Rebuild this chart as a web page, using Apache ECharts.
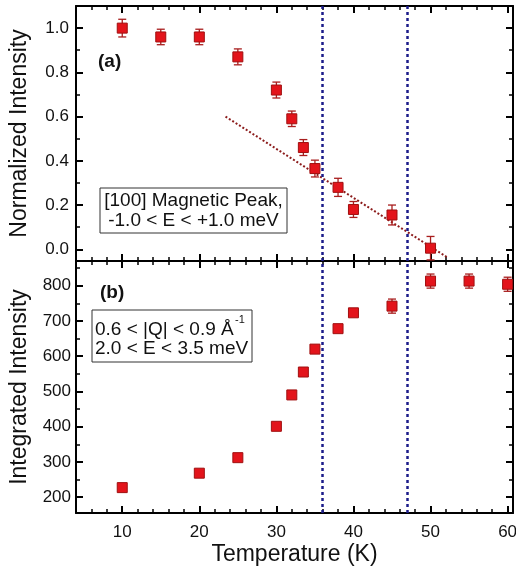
<!DOCTYPE html>
<html>
<head>
<meta charset="utf-8">
<script src="https://cdn.jsdelivr.net/npm/echarts@6/dist/echarts.min.js"></script>
<style>
  html, body { margin: 0; padding: 0; background: #fff; }
  #chart { width: 516px; height: 573px; }
</style>
</head>
<body>
<div id="chart"></div>
<script>
// (a) normalized intensity of the [100] magnetic peak
const tempA = [10, 15, 20, 25, 30, 32, 33.5, 35, 38, 40, 45, 50];
const normA = [1.0, 0.96, 0.96, 0.87, 0.72, 0.59, 0.46, 0.365, 0.28, 0.18, 0.155, 0.005];
const errA = [0.04, 0.035, 0.035, 0.036, 0.036, 0.035, 0.036, 0.038, 0.041, 0.036, 0.045, 0.053];
const fitLine = [[23.4, 0.6], [52.2, -0.037]];

// (b) integrated intensity
const tempB = [10, 20, 25, 30, 32, 33.5, 35, 38, 40, 45, 50, 55, 60];
const intB = [227, 268, 312, 401, 490, 555, 620, 678, 723, 742, 813, 813, 804];
const errB = [8, 8, 8, 8, 8, 8, 8, 8, 8, 20, 20, 20, 20];

// dotted vertical lines
const transitions = [36, 47];

// ticks
const xTicks = [10, 20, 30, 40, 50, 60];
const xMinor = [6, 8, 12, 14, 16, 18, 22, 24, 26, 28, 32, 34, 36, 38, 42, 44, 46, 48, 52, 54, 56, 58];
const yTicksA = [0, 0.2, 0.4, 0.6, 0.8, 1.0];
const yMinorA = [0.1, 0.3, 0.5, 0.7, 0.9];
const yTicksB = [200, 300, 400, 500, 600, 700, 800];
const yMinorB = [250, 350, 450, 550, 650, 750, 850];

const FONT = 'Liberation Sans, Arial, sans-serif';
const xRange = [4, 60.7];
const yRangeA = [-0.053, 1.1];
const yRangeB = [155, 870];

let myChart = echarts.init(document.getElementById('chart'));

// one axis: either the major one (frame line + long ticks) or an overlay with short minor ticks
function axis(grid, pos, range, ticks, major, extra) {
    return Object.assign({
        type: 'value',
        gridIndex: grid,
        position: pos,
        min: range[0],
        max: range[1],
        axisLine: { show: major, onZero: false, lineStyle: { color: '#000', width: 2 } },
        axisTick: {
            show: true,
            inside: true,
            length: major ? 7 : 4,
            customValues: ticks,
            lineStyle: { color: '#000', width: major ? 2 : 1.5 }
        },
        axisLabel: { show: false },
        splitLine: { show: false }
    }, extra || {});
}

function labels(values, fmt, margin) {
    return {
        show: true,
        customValues: values,
        formatter: fmt,
        color: '#111',
        fontSize: 17,
        fontFamily: FONT,
        margin: margin
    };
}

function renderErr(params, api) {
    const x = api.value(0);
    const hi = api.coord([x, api.value(2)]);
    const lo = api.coord([x, api.value(1)]);
    const cap = 4;
    const style = { stroke: '#a81e1e', lineWidth: 1.3 };
    return {
        type: 'group',
        children: [
            { type: 'line', shape: { x1: hi[0], y1: hi[1], x2: lo[0], y2: lo[1] }, style: style },
            { type: 'line', shape: { x1: hi[0] - cap, y1: hi[1], x2: hi[0] + cap, y2: hi[1] }, style: style },
            { type: 'line', shape: { x1: lo[0] - cap, y1: lo[1], x2: lo[0] + cap, y2: lo[1] }, style: style }
        ]
    };
}

const vLines = {
    silent: true,
    symbol: 'none',
    label: { show: false },
    lineStyle: { color: '#1c1c8a', type: [3, 3], width: 2.5 },
    data: transitions.map(t => ({ xAxis: t }))
};

const markerStyle = { color: '#e3141b', borderColor: '#a01010', borderWidth: 1, opacity: 1 };

let option = {
    animation: false,
    grid: [
        { left: 76, right: 3, top: 6, height: 255, outerBoundsMode: 'none' },
        { left: 76, right: 3, top: 261, height: 252, outerBoundsMode: 'none' }
    ],
    xAxis: [
        axis(0, 'bottom', xRange, xTicks, true),
        axis(0, 'bottom', xRange, xMinor, false),
        axis(0, 'top', xRange, xTicks, true),
        axis(0, 'top', xRange, xMinor, false),
        axis(1, 'bottom', xRange, xTicks, true, {
            axisLabel: labels(xTicks, v => String(v), 11),
            name: 'Temperature (K)',
            nameLocation: 'middle',
            nameGap: 30,
            nameTextStyle: { fontSize: 23, fontFamily: FONT, color: '#111' }
        }),
        axis(1, 'bottom', xRange, xMinor, false),
        axis(1, 'top', xRange, xTicks, true),
        axis(1, 'top', xRange, xMinor, false)
    ],
    yAxis: [
        axis(0, 'left', yRangeA, yTicksA, true, {
            axisLabel: labels(yTicksA, v => v.toFixed(1), 7),
            name: 'Normalized Intensity',
            nameLocation: 'middle',
            nameGap: 45,
            nameTextStyle: { fontSize: 23, fontFamily: FONT, color: '#111' }
        }),
        axis(0, 'left', yRangeA, yMinorA, false),
        axis(0, 'right', yRangeA, yTicksA, true),
        axis(0, 'right', yRangeA, yMinorA, false),
        axis(1, 'left', yRangeB, yTicksB, true, {
            axisLabel: labels(yTicksB, v => String(v), 5),
            name: 'Integrated Intensity',
            nameLocation: 'middle',
            nameGap: 45,
            nameTextStyle: { fontSize: 23, fontFamily: FONT, color: '#111' }
        }),
        axis(1, 'left', yRangeB, yMinorB, false),
        axis(1, 'right', yRangeB, yTicksB, true),
        axis(1, 'right', yRangeB, yMinorB, false)
    ],
    series: [
        {
            type: 'custom',
            xAxisIndex: 0,
            yAxisIndex: 0,
            renderItem: renderErr,
            encode: { x: 0, y: [1, 2] },
            data: tempA.map((t, i) => [t, normA[i] - errA[i], normA[i] + errA[i]]),
            z: 2
        },
        {
            type: 'line',
            xAxisIndex: 0,
            yAxisIndex: 0,
            data: fitLine,
            showSymbol: false,
            lineStyle: { color: '#8c1c1c', width: 2, type: [2, 2] },
            z: 1
        },
        {
            type: 'scatter',
            xAxisIndex: 0,
            yAxisIndex: 0,
            symbol: 'rect',
            symbolSize: 10,
            itemStyle: markerStyle,
            data: tempA.map((t, i) => [t, normA[i]]),
            markLine: vLines,
            z: 3
        },
        {
            type: 'custom',
            xAxisIndex: 4,
            yAxisIndex: 4,
            renderItem: renderErr,
            encode: { x: 0, y: [1, 2] },
            data: tempB.map((t, i) => [t, intB[i] - errB[i], intB[i] + errB[i]]),
            z: 2
        },
        {
            type: 'scatter',
            xAxisIndex: 4,
            yAxisIndex: 4,
            symbol: 'rect',
            symbolSize: 10,
            itemStyle: markerStyle,
            data: tempB.map((t, i) => [t, intB[i]]),
            markLine: vLines,
            z: 3
        }
    ],
    graphic: [
        {
            type: 'text', left: 98, top: 52, z: 10,
            style: { text: '(a)', fontSize: 19, fontWeight: 'bold', fontFamily: FONT, fill: '#111' }
        },
        {
            type: 'text', left: 100, top: 283, z: 10,
            style: { text: '(b)', fontSize: 19, fontWeight: 'bold', fontFamily: FONT, fill: '#111' }
        },
        {
            type: 'rect', z: 10,
            shape: { x: 100, y: 188, width: 187, height: 45 },
            style: { fill: '#fff', stroke: '#333', lineWidth: 1 }
        },
        {
            type: 'text', z: 11, x: 193.5, y: 211,
            style: {
                text: '[100] Magnetic Peak,\n-1.0 < E < +1.0 meV',
                fontSize: 19, fontFamily: FONT, fill: '#111', lineHeight: 20,
                align: 'center', verticalAlign: 'middle'
            }
        },
        {
            type: 'rect', z: 10,
            shape: { x: 92, y: 310, width: 160, height: 52 },
            style: { fill: '#fff', stroke: '#333', lineWidth: 1 }
        },
        {
            type: 'text', z: 11, x: 95, y: 339,
            style: {
                text: '0.6 < |Q| < 0.9 Å\n2.0 < E < 3.5 meV',
                fontSize: 19, fontFamily: FONT, fill: '#111', lineHeight: 19,
                align: 'left', verticalAlign: 'middle'
            }
        },
        {
            type: 'text', z: 11, x: 235, y: 320,
            style: {
                text: '-1',
                fontSize: 11, fontFamily: FONT, fill: '#111',
                align: 'left', verticalAlign: 'middle'
            }
        }
    ]
};
myChart.setOption(option);
window.addEventListener('resize', function () {
    myChart.resize();
});
</script>
</body>
</html>
